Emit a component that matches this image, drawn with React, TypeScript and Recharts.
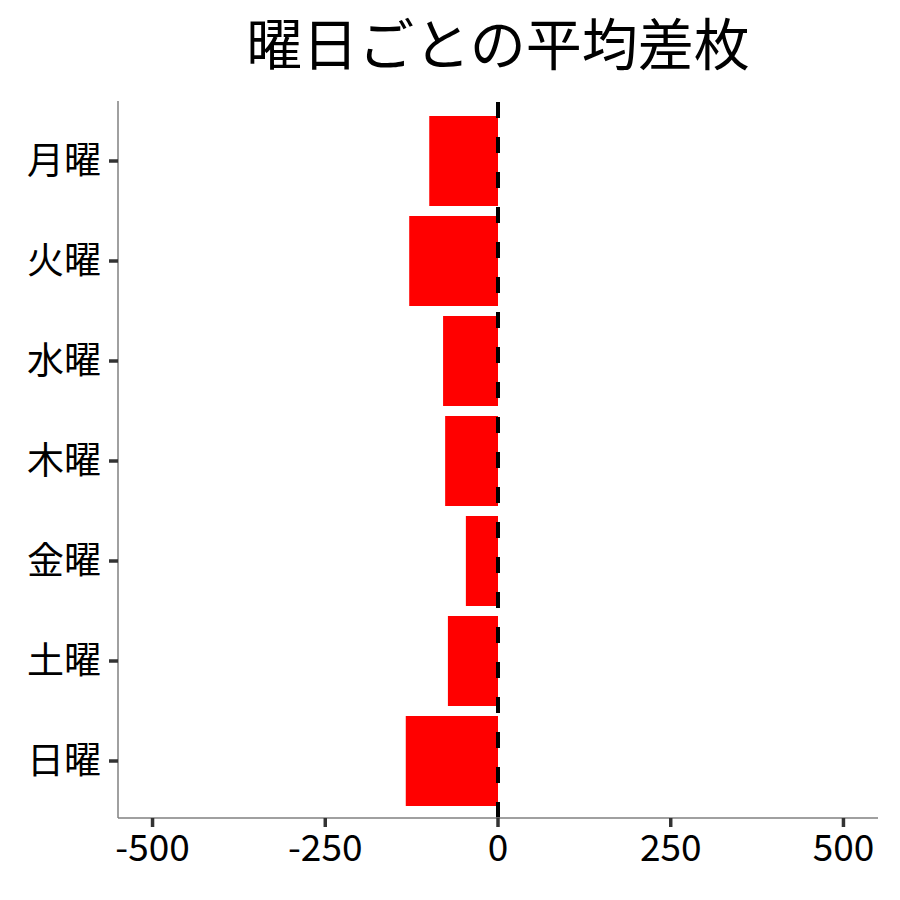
import React from "react";
import { BarChart, Bar, XAxis, YAxis, ReferenceLine } from "recharts";

const days = ["月曜", "火曜", "水曜", "木曜", "金曜", "土曜", "日曜"];
const diffs = [-99.5, -128.5, -79.5, -76.5, -46.5, -72.5, -133.5];
const xTicks = [-500, -250, 0, 250, 500];
const title = "曜日ごとの平均差枚";

const data = days.map((d, i) => ({ day: d, value: diffs[i] }));

const FONT = '"Noto Sans CJK JP", "Noto Sans", sans-serif';

export default function App() {
  return (
    <div style={{ position: "relative", width: 892, height: 892, fontFamily: FONT, background: "#fff" }}>
      <div
        style={{
          position: "absolute",
          left: 110,
          width: 760,
          top: 5,
          textAlign: "center",
          fontSize: 56,
          lineHeight: "56px",
          color: "#000",
          whiteSpace: "nowrap",
        }}
      >
        {title}
      </div>
      <BarChart
        width={892}
        height={892}
        layout="vertical"
        data={data}
        margin={{ top: 93, right: 22, bottom: 22, left: 0 }}
      >
        <XAxis
          type="number"
          dataKey="value"
          domain={[-550, 550]}
          ticks={xTicks}
          height={60}
          tickSize={9}
          tickMargin={8}
          axisLine={{ stroke: "#808080", strokeWidth: 1.5 }}
          tickLine={{ stroke: "#333333", strokeWidth: 3.5 }}
          tick={{ fill: "#000", fontSize: 37, fontFamily: FONT }}
          allowDataOverflow
        />
        <YAxis
          type="category"
          dataKey="day"
          width={110}
          tickSize={9}
          tickMargin={8}
          padding={{ top: 10, bottom: 7 }}
          axisLine={{ stroke: "#808080", strokeWidth: 1.5 }}
          tickLine={{ stroke: "#333333", strokeWidth: 3.5 }}
          tick={{ fill: "#000", fontSize: 37, fontFamily: FONT }}
        />
        <Bar dataKey="value" fill="#FF0000" barSize={90} isAnimationActive={false} />
        <ReferenceLine x={0} stroke="#000" strokeWidth={4} strokeDasharray="16 19" />
      </BarChart>
    </div>
  );
}
